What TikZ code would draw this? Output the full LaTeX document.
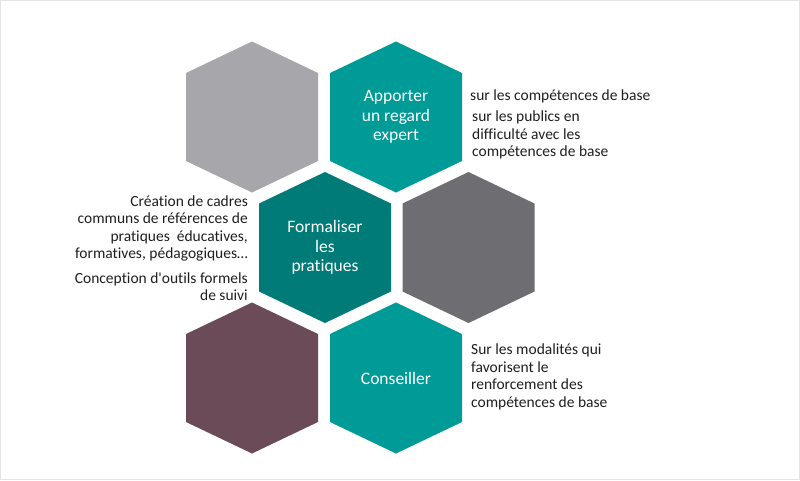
\documentclass[tikz,border=0pt]{standalone}
\usepackage{fontspec}
\setmainfont{Carlito}[Ligatures={NoCommon}]

\definecolor{hexgray}{HTML}{A7A6AB}
\definecolor{hexteal}{HTML}{009A97}
\definecolor{hexdark}{HTML}{007B78}
\definecolor{hexslate}{HTML}{6E6D72}
\definecolor{hexplum}{HTML}{6A4B57}
\definecolor{framegray}{HTML}{E4E4E4}
\definecolor{inkgray}{HTML}{1E1E1E}

\begin{document}
\begin{tikzpicture}[
  x=1pt, y=-1pt,
  hextext/.style={text=white, align=center, inner sep=0pt, font=\fontsize{17.5}{19.5}\selectfont},
  sidetext/.style={text=inkgray, inner sep=0pt, font=\fontsize{15.5}{17.5}\selectfont},
]
\useasboundingbox (0,0) rectangle (800,480);
\draw[framegray, line width=1pt] (0.5,0.5) rectangle (799.5,479.5);

% hexagons
\foreach \name/\cx/\cy/\col in {gris/252/117/hexgray, regard/396/117/hexteal,
    pratiques/325/247.5/hexdark, ardoise/468.5/247.5/hexslate,
    prune/252/378/hexplum, conseil/396/378/hexteal}{
  \coordinate (\name) at (\cx,\cy);
  \fill[\col] (\name) +(0,-75.5) -- +(66,-44) -- +(66,44) -- +(0,75.5) -- +(-66,44) -- +(-66,-44) -- cycle;
}

\node[hextext] (tregard) at (regard) {Apporter\\un regard\\expert};
\node[hextext] (tpratiques) at (pratiques) {Formaliser\\les\\pratiques};
\node[hextext] (tconseil) at (conseil) {Conseiller};

% side texts
\node[sidetext, anchor=west, align=left] (base) at (470,96) {sur les compétences de base};
\node[sidetext, anchor=west, align=left] (publics) at (472,135) {sur les publics en\\difficulté avec les\\compétences de base};
\node[sidetext, anchor=east, align=right] (cadres) at (248,228.5) {Création de cadres\\communs de références de\\pratiques~ éducatives,\\formatives, pédagogiques…};
\node[sidetext, anchor=east, align=right] (outils) at (248,286.5) {Conception d\textquotesingle outils formels\\de suivi};
\node[sidetext, anchor=west, align=left] (modalites) at (471,377) {Sur les modalités qui\\favorisent le\\renforcement des\\compétences de base};
\end{tikzpicture}
\end{document}
